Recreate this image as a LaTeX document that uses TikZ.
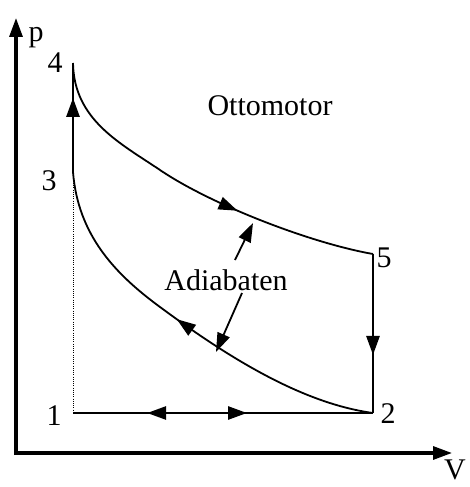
\documentclass[tikz,border=0pt]{standalone}
\usepackage{fontspec}
\setmainfont{Liberation Serif}
\usepackage{tikz}
\usetikzlibrary{arrows.meta,calc,decorations.markings}
\tikzset{
  >={Triangle[length=19pt,width=13pt]},
  axis/.style={->,line width=3.2pt},
  curve/.style={line width=1.8pt},
  line/.style={line width=1.5pt},
  push/.style={->,line width=2.7pt},
  flowmark/.style={postaction={decorate},
    decoration={markings,mark=at position #1 with {\arrow{>}}}},
  statelabel/.style={anchor=base,inner sep=0pt,font=\fontsize{30}{36}\selectfont},
}

\begin{document}
\begin{tikzpicture}[x=1pt,y=-1pt]
  \useasboundingbox (0,0) rectangle (469,487);

  % axes
  \coordinate (origin) at (16,453);
  \coordinate (ptop) at (16,18);
  \coordinate (vend) at (452,453);
  \draw[axis] ([yshift=-2pt]origin) -- (ptop);
  \draw[axis] ([xshift=-1.6pt]origin) -- (vend);
  \node[statelabel] (lp) at (36,42) {p};
  \node[statelabel] (lv) at (455,479) {V};

  % states of the cycle
  \coordinate (p1) at (73,413);
  \coordinate (p2) at (373,413);
  \coordinate (p3) at (73,172);
  \coordinate (p4) at (73,63);
  \coordinate (p5) at (373,254);
  \node[statelabel] (l1) at (54,425) {1};
  \node[statelabel] (l2) at (388,423) {2};
  \node[statelabel] (l3) at (49,190) {3};
  \node[statelabel] (l4) at (55,73) {4};
  \node[statelabel] (l5) at (384,267) {5};

  % adiabats
  \draw[curve,flowmark=0.62] (p4) .. controls (74,120) and (120,143) .. (160,170)
    .. controls (210,204) and (310,243) .. (p5);
  \draw[curve,flowmark=0.54] (p2) .. controls (300,403) and (225,355) .. (160,307)
    .. controls (115,274) and (78,235) .. (p3);

  % isochores and isobar
  \draw[line] (p3) -- (p4);
  \draw[push] (p3) -- ($(p3)!0.68!(p4)$);
  \draw[line,dash pattern=on 1pt off 1.2pt,line width=1pt] (p3) -- (p1);
  \draw[line] (p5) -- (p2);
  \draw[push] ($(p5)!0.4!(p2)$) -- ($(p5)!0.635!(p2)$);
  \draw[line] (p1) -- (p2);
  \draw[push,<->] ($(p1)!0.247!(p2)$) -- ($(p1)!0.58!(p2)$);

  \node[statelabel] (otto) at (270,115) {Ottomotor};
  \node[statelabel] (adiab) at (226,290) {Adiabaten};
  \coordinate (a1) at (235,260);
  \coordinate (u1) at (253,223);
  \coordinate (a2) at (242,293);
  \coordinate (u2) at (216,352);
  \draw[->,curve] (a1) -- (u1);
  \draw[->,curve] (a2) -- (u2);
\end{tikzpicture}
\end{document}
